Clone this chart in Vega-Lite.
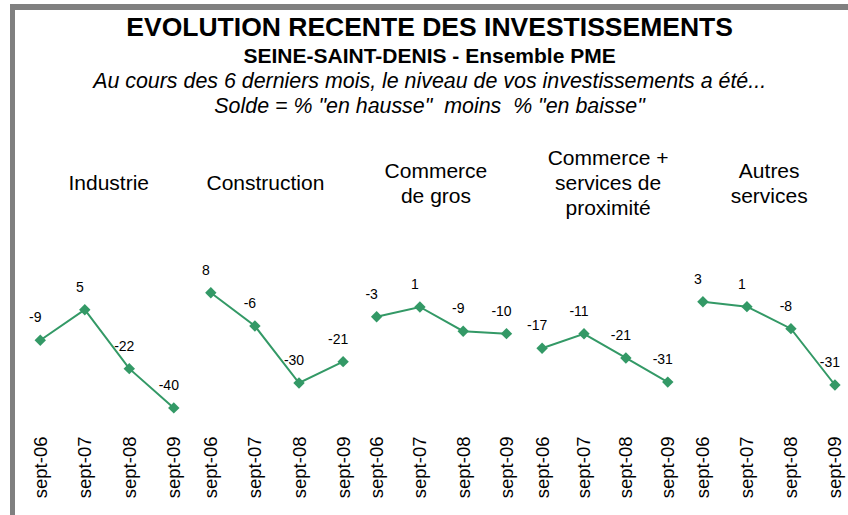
{
  "$schema": "https://vega.github.io/schema/vega-lite/v6.json",
  "padding": {"left": 10, "top": 4, "right": 0, "bottom": 0},
  "background": "white",
  "data": {"values": [
    {"secteur": "Industrie", "date": "sept-06", "solde": -9},
    {"secteur": "Industrie", "date": "sept-07", "solde": 5},
    {"secteur": "Industrie", "date": "sept-08", "solde": -22},
    {"secteur": "Industrie", "date": "sept-09", "solde": -40},
    {"secteur": "Construction", "date": "sept-06", "solde": 8},
    {"secteur": "Construction", "date": "sept-07", "solde": -6},
    {"secteur": "Construction", "date": "sept-08", "solde": -30},
    {"secteur": "Construction", "date": "sept-09", "solde": -21},
    {"secteur": "Commerce de gros", "date": "sept-06", "solde": -3},
    {"secteur": "Commerce de gros", "date": "sept-07", "solde": 1},
    {"secteur": "Commerce de gros", "date": "sept-08", "solde": -9},
    {"secteur": "Commerce de gros", "date": "sept-09", "solde": -10},
    {"secteur": "Commerce + services de proximité", "date": "sept-06", "solde": -17},
    {"secteur": "Commerce + services de proximité", "date": "sept-07", "solde": -11},
    {"secteur": "Commerce + services de proximité", "date": "sept-08", "solde": -21},
    {"secteur": "Commerce + services de proximité", "date": "sept-09", "solde": -31},
    {"secteur": "Autres services", "date": "sept-06", "solde": 3},
    {"secteur": "Autres services", "date": "sept-07", "solde": 1},
    {"secteur": "Autres services", "date": "sept-08", "solde": -8},
    {"secteur": "Autres services", "date": "sept-09", "solde": -31}
  ]},
  "config": {
    "font": "Liberation Sans",
    "view": {"stroke": null},
    "title": {"font": "Liberation Sans", "color": "black", "anchor": "middle", "subtitleColor": "black", "subtitleFont": "Liberation Sans"},
    "axis": {"labelFont": "Liberation Sans"},
    "text": {"font": "Liberation Sans"}
  },
  "spacing": 0,
  "hconcat": [
    {
      "data": {"values": []},
      "mark": "rect",
      "encoding": {},
      "width": 5,
      "height": 511,
      "view": {"fill": "#808080", "stroke": null}
    },
    {
      "spacing": 5,
      "vconcat": [
        {
          "data": {"values": []},
          "mark": "rect",
          "encoding": {},
          "width": 833,
          "height": 6,
          "view": {"fill": "#808080", "stroke": null}
        },
        {
          "title": {
            "text": "EVOLUTION RECENTE DES INVESTISSEMENTS",
            "subtitle": "SEINE-SAINT-DENIS - Ensemble PME",
            "fontSize": 26.5,
            "fontWeight": "bold",
            "subtitleFontSize": 21,
            "subtitleFontWeight": "bold",
            "subtitlePadding": 4,
            "offset": 4,
            "dx": -3
          },
          "spacing": 0,
          "vconcat": [
            {
              "title": {
                "text": ["Au cours des 6 derniers mois, le niveau de vos investissements a été...", "Solde = % \"en hausse\" \u00a0moins \u00a0% \"en baisse\""],
                "fontSize": 21.4,
                "fontStyle": "italic",
                "fontWeight": "normal",
                "lineHeight": 24.7,
                "offset": 31,
                "dx": -3
              },
              "spacing": 0,
              "hconcat": [
                {
                  "width": 176.5, "height": 180,
                  "title": {"text": ["\u200b", "\u200b", "Industrie", "\u200b", "\u200b"], "fontSize": 21, "fontWeight": "normal", "lineHeight": 12.5, "offset": 22, "dx": 5.5},
                  "transform": [{"filter": "datum.secteur === 'Industrie'"}],
                  "encoding": {
                    "x": {"field": "date", "type": "ordinal", "scale": {"type": "point", "padding": 0.483, "align": 0.588}, "axis": {"labelAngle": -90, "labelFontSize": 18.5, "labelColor": "black", "domain": false, "ticks": false, "labelPadding": 15, "title": null}},
                    "y": {"field": "solde", "type": "quantitative", "scale": {"domain": [-46, 36.5], "nice": false, "zero": false}, "axis": null}
                  },
                  "layer": [
                    {"mark": {"type": "line", "color": "#339966", "strokeWidth": 2}},
                    {"mark": {"type": "point", "shape": "diamond", "filled": true, "size": 130, "color": "#339966", "opacity": 1}},
                    {"mark": {"type": "text", "dy": -22, "dx": -5, "fontSize": 14, "color": "black"}, "encoding": {"text": {"field": "solde", "type": "nominal"}}}
                  ]
                },
                {
                  "width": 167.6, "height": 180,
                  "title": {"text": ["\u200b", "\u200b", "Construction", "\u200b", "\u200b"], "fontSize": 21, "fontWeight": "normal", "lineHeight": 12.5, "offset": 22, "dx": -10.4},
                  "transform": [{"filter": "datum.secteur === 'Construction'"}],
                  "encoding": {
                    "x": {"field": "date", "type": "ordinal", "scale": {"type": "point", "padding": 0.4, "align": 0.533}, "axis": {"labelAngle": -90, "labelFontSize": 18.5, "labelColor": "black", "domain": false, "ticks": false, "labelPadding": 15, "title": null}},
                    "y": {"field": "solde", "type": "quantitative", "scale": {"domain": [-46, 29.8], "nice": false, "zero": false}, "axis": null}
                  },
                  "layer": [
                    {"mark": {"type": "line", "color": "#339966", "strokeWidth": 2}},
                    {"mark": {"type": "point", "shape": "diamond", "filled": true, "size": 130, "color": "#339966", "opacity": 1}},
                    {"mark": {"type": "text", "dy": -22, "dx": -5, "fontSize": 14, "color": "black"}, "encoding": {"text": {"field": "solde", "type": "nominal"}}}
                  ]
                },
                {
                  "width": 164.5, "height": 180,
                  "title": {"text": ["\u200b", "Commerce", "\u200b", "de gros", "\u200b"], "fontSize": 21, "fontWeight": "normal", "lineHeight": 12.5, "offset": 22, "dx": -6.3},
                  "transform": [{"filter": "datum.secteur === 'Commerce de gros'"}],
                  "encoding": {
                    "x": {"field": "date", "type": "ordinal", "scale": {"type": "point", "padding": 0.4, "align": 0.48}, "axis": {"labelAngle": -90, "labelFontSize": 18.5, "labelColor": "black", "domain": false, "ticks": false, "labelPadding": 15, "title": null}},
                    "y": {"field": "solde", "type": "quantitative", "scale": {"domain": [-46, 28.2], "nice": false, "zero": false}, "axis": null}
                  },
                  "layer": [
                    {"mark": {"type": "line", "color": "#339966", "strokeWidth": 2}},
                    {"mark": {"type": "point", "shape": "diamond", "filled": true, "size": 130, "color": "#339966", "opacity": 1}},
                    {"mark": {"type": "text", "dy": -22, "dx": -5, "fontSize": 14, "color": "black"}, "encoding": {"text": {"field": "solde", "type": "nominal"}}}
                  ]
                },
                {
                  "width": 159.2, "height": 180,
                  "title": {"text": ["Commerce +", "\u200b", "services de", "\u200b", "proximité"], "fontSize": 21, "fontWeight": "normal", "lineHeight": 12.5, "offset": 22, "dx": 3.5},
                  "transform": [{"filter": "datum.secteur === 'Commerce + services de proximité'"}],
                  "encoding": {
                    "x": {"field": "date", "type": "ordinal", "scale": {"type": "point", "padding": 0.4, "align": 0.51}, "axis": {"labelAngle": -90, "labelFontSize": 18.5, "labelColor": "black", "domain": false, "ticks": false, "labelPadding": 15, "title": null}},
                    "y": {"field": "solde", "type": "quantitative", "scale": {"domain": [-47.1, 27.4], "nice": false, "zero": false}, "axis": null}
                  },
                  "layer": [
                    {"mark": {"type": "line", "color": "#339966", "strokeWidth": 2}},
                    {"mark": {"type": "point", "shape": "diamond", "filled": true, "size": 130, "color": "#339966", "opacity": 1}},
                    {"mark": {"type": "text", "dy": -22, "dx": -5, "fontSize": 14, "color": "black"}, "encoding": {"text": {"field": "solde", "type": "nominal"}}}
                  ]
                },
                {
                  "width": 165.2, "height": 180,
                  "title": {"text": ["\u200b", "Autres", "\u200b", "services", "\u200b"], "fontSize": 21, "fontWeight": "normal", "lineHeight": 12.5, "offset": 22, "dx": 1.6},
                  "transform": [{"filter": "datum.secteur === 'Autres services'"}],
                  "encoding": {
                    "x": {"field": "date", "type": "ordinal", "scale": {"type": "point", "padding": 0.377, "align": 0.54}, "axis": {"labelAngle": -90, "labelFontSize": 18.5, "labelColor": "black", "domain": false, "ticks": false, "labelPadding": 15, "title": null}},
                    "y": {"field": "solde", "type": "quantitative", "scale": {"domain": [-45.7, 27.8], "nice": false, "zero": false}, "axis": null}
                  },
                  "layer": [
                    {"mark": {"type": "line", "color": "#339966", "strokeWidth": 2}},
                    {"mark": {"type": "point", "shape": "diamond", "filled": true, "size": 130, "color": "#339966", "opacity": 1}},
                    {"mark": {"type": "text", "dy": -22, "dx": -5, "fontSize": 14, "color": "black"}, "encoding": {"text": {"field": "solde", "type": "nominal"}}}
                  ]
                }
              ]
            }
          ]
        }
      ]
    }
  ]
}
